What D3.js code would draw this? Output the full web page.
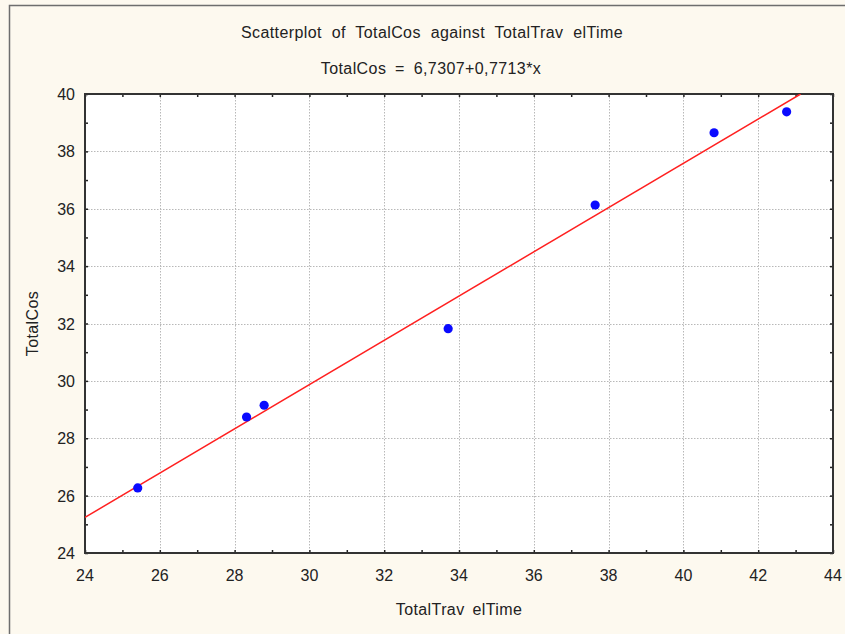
<!DOCTYPE html>
<html><head><meta charset="utf-8">
<script src="https://cdn.jsdelivr.net/npm/d3@7"></script>
<style>
html,body{margin:0;padding:0;background:#fdf9ef;}
svg{display:block;}
text{font-family:"Liberation Sans",Arial,sans-serif;fill:#222;}
</style></head>
<body>
<script>
const xValues = [25.41, 28.32, 28.79, 33.71, 37.64, 40.82, 42.76];
const yValues = [26.27, 28.74, 29.15, 31.82, 36.13, 38.65, 39.38];
const xTicks = [24, 26, 28, 30, 32, 34, 36, 38, 40, 42, 44];
const yTicks = [24, 26, 28, 30, 32, 34, 36, 38, 40];
const fitIntercept = 6.7307;
const fitSlope = 0.7713;
const titleText = "Scatterplot of TotalCos against TotalTrav elTime";
const subtitleText = "TotalCos = 6,7307+0,7713*x";
const xLabel = "TotalTrav elTime";
const yLabel = "TotalCos";

const W = 845, H = 634;
const m = {left: 85, right: 12, top: 94, bottom: 81};
const svg = d3.select("body").append("svg").attr("width", W).attr("height", H);
svg.append("rect").attr("width", W).attr("height", H).attr("fill", "#fdf9ef");
svg.append("path").attr("d", `M9.5,${H} V5.5 H${W}`).attr("fill","none").attr("stroke","#6e6e6e").attr("stroke-width",1.5);

const x = d3.scaleLinear().domain([24, 44]).range([m.left, W - m.right]);
const y = d3.scaleLinear().domain([24, 40]).range([H - m.bottom, m.top]);

svg.append("rect").attr("x", x(24)).attr("y", y(40)).attr("width", x(44)-x(24)).attr("height", y(24)-y(40)).attr("fill", "#fff");

const grid = svg.append("g").attr("stroke", "#b8b8b8").attr("stroke-dasharray", "1.5,1.5").attr("stroke-width", 1);
xTicks.slice(1, -1).forEach(t => grid.append("line").attr("x1", Math.round(x(t))+0.5).attr("x2", Math.round(x(t))+0.5).attr("y1", y(40)).attr("y2", y(24)));
yTicks.slice(1, -1).forEach(t => grid.append("line").attr("y1", Math.round(y(t))+0.5).attr("y2", Math.round(y(t))+0.5).attr("x1", x(24)).attr("x2", x(44)));

const minorX = d3.range(24, 44.01, 1), minorY = d3.range(24, 40.01, 1);
const axB = d3.axisBottom(x).tickValues(minorX).tickSize(-3).tickFormat("");
const axT = d3.axisTop(x).tickValues(minorX).tickSize(-3).tickFormat("");
const axL = d3.axisLeft(y).tickValues(minorY).tickSize(-3).tickFormat("");
const axR = d3.axisRight(y).tickValues(minorY).tickSize(-3).tickFormat("");
[[axB, `translate(0,${y(24)})`], [axT, `translate(0,${y(40)})`], [axL, `translate(${x(24)},0)`], [axR, `translate(${x(44)},0)`]].forEach(([a, tr]) => {
  const g = svg.append("g").attr("transform", tr).call(a);
  g.select(".domain").remove();
  g.selectAll("line").attr("stroke", "#222").attr("stroke-width", 1.5);
});
svg.append("rect").attr("x", x(24)).attr("y", y(40)).attr("width", x(44)-x(24)).attr("height", y(24)-y(40))
  .attr("fill", "none").attr("stroke", "#333").attr("stroke-width", 2);

svg.append("g").selectAll("text").data(xTicks).join("text")
  .attr("x", d => x(d)).attr("y", y(24) + 28).attr("text-anchor", "middle").attr("font-size", 16).text(d => d);
svg.append("g").selectAll("text").data(yTicks).join("text")
  .attr("x", x(24) - 10).attr("y", d => y(d) + 6).attr("text-anchor", "end").attr("font-size", 16).text(d => d);

svg.append("clipPath").attr("id", "clip").append("rect").attr("x", x(24)).attr("y", y(40)).attr("width", x(44)-x(24)).attr("height", y(24)-y(40));
const x0 = 24, x1 = (40 - fitIntercept) / fitSlope;
svg.append("line").attr("clip-path", "url(#clip)")
  .attr("x1", x(x0)).attr("y1", y(fitIntercept + fitSlope * x0))
  .attr("x2", x(x1)).attr("y2", y(fitIntercept + fitSlope * x1))
  .attr("stroke", "#ff2020").attr("stroke-width", 1.5);

svg.append("g").selectAll("circle").data(xValues.map((v, i) => [v, yValues[i]])).join("circle")
  .attr("cx", d => x(d[0])).attr("cy", d => y(d[1])).attr("r", 4.6).attr("fill", "#0a0aff");

svg.append("text").attr("x", 432).attr("y", 38).attr("text-anchor", "middle").attr("font-size", 16)
  .attr("letter-spacing", 0.4).attr("word-spacing", 5).text(titleText);
svg.append("text").attr("x", 431).attr("y", 74).attr("text-anchor", "middle").attr("font-size", 16)
  .attr("letter-spacing", 0.4).attr("word-spacing", 4).text(subtitleText);
svg.append("text").attr("x", 459).attr("y", 615).attr("text-anchor", "middle").attr("font-size", 16)
  .attr("letter-spacing", 0.4).attr("word-spacing", 3).text(xLabel);
svg.append("text").attr("transform", `translate(38,${(y(24)+y(40))/2}) rotate(-90)`).attr("text-anchor", "middle")
  .attr("font-size", 16).attr("letter-spacing", 0.4).text(yLabel);
</script>
</body></html>
